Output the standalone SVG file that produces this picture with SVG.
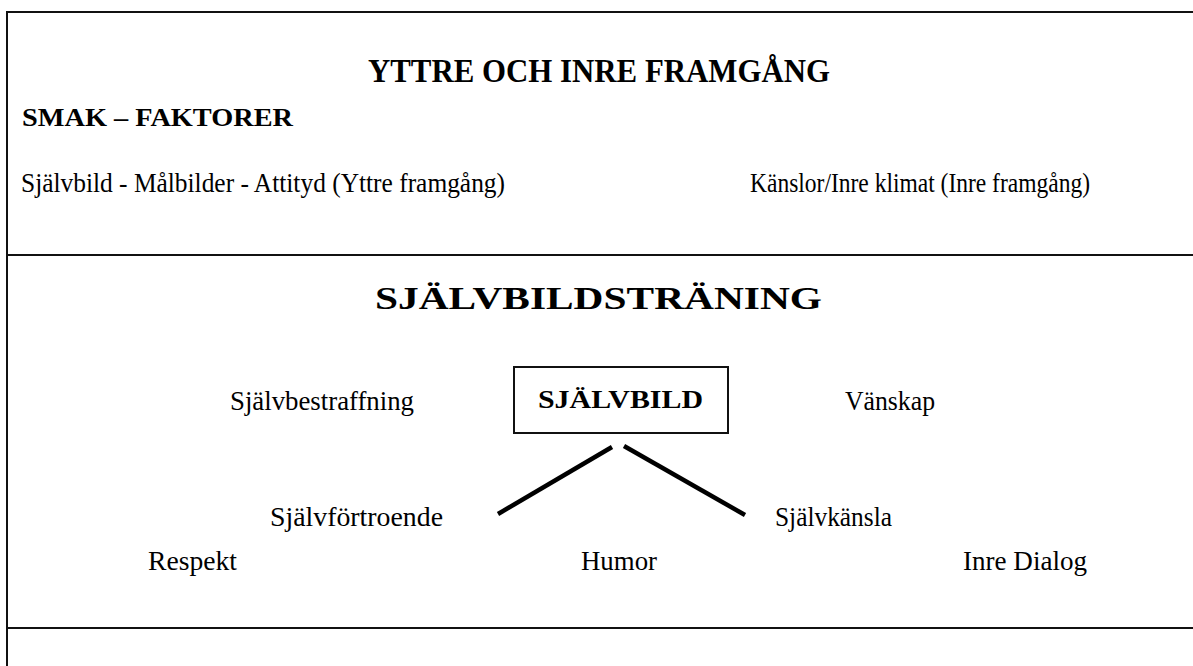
<svg xmlns="http://www.w3.org/2000/svg" width="1193" height="666" viewBox="0 0 1193 666">
<style>
.t{font-family:"Liberation Serif","Times New Roman",serif;fill:#000}
.b{font-weight:bold}
.n{font-size:28px}
.rule{stroke:#111;stroke-width:2;fill:none}
.conn{stroke:#000;stroke-width:4.5;stroke-linecap:butt}
</style>
<rect width="1193" height="666" fill="#fff"/>
<g id="frame">
<line class="rule" x1="7" y1="12" x2="1193" y2="12"/>
<line class="rule" x1="7" y1="11" x2="7" y2="666"/>
<line class="rule" x1="7" y1="255" x2="1193" y2="255"/>
<line class="rule" x1="7" y1="628" x2="1193" y2="628"/>
</g>
<g id="section-framgang">
<text class="t b" x="368" y="82" font-size="33" textLength="462" lengthAdjust="spacingAndGlyphs">YTTRE OCH INRE FRAMGÅNG</text>
<text class="t b" x="22" y="126" font-size="25" textLength="271" lengthAdjust="spacingAndGlyphs">SMAK – FAKTORER</text>
<text class="t n" x="21" y="192" textLength="484" lengthAdjust="spacingAndGlyphs">Självbild - Målbilder - Attityd (Yttre framgång)</text>
<text class="t n" x="750" y="192" textLength="340" lengthAdjust="spacingAndGlyphs">Känslor/Inre klimat (Inre framgång)</text>
</g>
<g id="section-traning">
<text class="t b" x="375" y="309" font-size="32" textLength="447" lengthAdjust="spacingAndGlyphs">SJÄLVBILDSTRÄNING</text>
</g>
<g id="node-sjalvbild">
<rect x="514" y="367" width="214" height="66" fill="#fff" stroke="#111" stroke-width="2"/>
<text class="t b" x="538" y="408" font-size="26" textLength="165" lengthAdjust="spacingAndGlyphs">SJÄLVBILD</text>
</g>
<g id="node-sjalvbestraffning"><text class="t n" x="230" y="410" textLength="184" lengthAdjust="spacingAndGlyphs">Självbestraffning</text></g>
<g id="node-vanskap"><text class="t n" x="845" y="410" textLength="90" lengthAdjust="spacingAndGlyphs">Vänskap</text></g>
<g id="node-sjalvfortroende"><text class="t n" x="270" y="526" textLength="173" lengthAdjust="spacingAndGlyphs">Självförtroende</text></g>
<g id="node-sjalvkansla"><text class="t n" x="775" y="526" textLength="117" lengthAdjust="spacingAndGlyphs">Självkänsla</text></g>
<g id="node-respekt"><text class="t n" x="148" y="570" textLength="89" lengthAdjust="spacingAndGlyphs">Respekt</text></g>
<g id="node-humor"><text class="t n" x="581" y="570" textLength="76" lengthAdjust="spacingAndGlyphs">Humor</text></g>
<g id="node-inre-dialog"><text class="t n" x="963" y="570" textLength="124" lengthAdjust="spacingAndGlyphs">Inre Dialog</text></g>
<g id="connectors">
<line class="conn" x1="612" y1="447" x2="498" y2="514"/>
<line class="conn" x1="624" y1="446" x2="745" y2="515"/>
</g>
</svg>
